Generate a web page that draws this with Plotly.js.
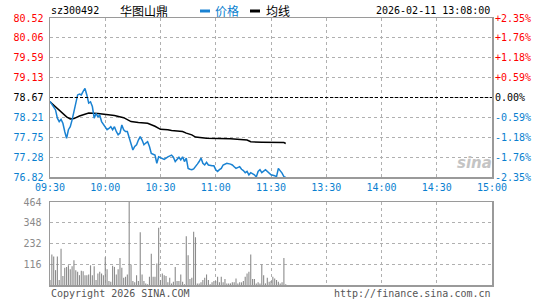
<!DOCTYPE html>
<html><head><meta charset="utf-8">
<script src="https://cdn.plot.ly/plotly-3.0.1.min.js"></script>
<style>html,body{margin:0;padding:0;background:#fff}#chart{width:545px;height:300px}</style>
</head><body><div id="chart"></div>
<script>
// ---- data ----
const stockCode = 'sz300492';
const stockName = '华图山鼎';
const legendPrice = '价格';
const legendAvg = '均线';
const stamp = '2026-02-11 13:08:00';
const prevClose = 78.67;
const priceLabels = ['76.82','77.28','77.75','78.21','78.67','79.13','79.59','80.06','80.52'];
const pctLabels = ['-2.35%','-1.76%','-1.18%','-0.59%','0.00%','+0.59%','+1.18%','+1.76%','+2.35%'];
const volLabels = ['116','232','348','464'];
const timeLabels = ['09:30','10:00','10:30','11:00','11:30','13:30','14:00','14:30','15:00'];

// minute index (0 = 09:30, 120 = 11:30/13:00, 240 = 15:00)
const priceIdx = [0,2,3,4,5,6,7,8,9,10,
  11,12,13,14,15,16,17,18,19,20,
  21,22,23,24,25,26,27,28,29,30,
  31,32,33,34,35,36,37,38,39,40,
  41,42,43,44,45,46,47,48,49,50,
  51,52,53,54,55,57,58,59,61,62,64,66,67,68,
  70,71,72,73,74,75,76,77,78,79,80,81,82,83,84,85,86,
  88,89,90,91,92,93,94,96,98,99,100,101,
  103,104,105,106,107,108,109,111,112,113,114,115,
  117,118,119,120,122,123,124,125,126,127,128];
const price = [78.58,78.45,78.38,78.19,78.11,78.16,78.07,77.88,77.72,77.92,
  77.99,78.15,78.34,78.50,78.73,78.75,78.73,78.81,78.88,78.73,
  78.54,78.57,78.46,78.19,78.30,78.22,78.26,78.11,78.05,77.99,
  77.92,77.95,77.99,77.92,77.99,77.88,77.80,77.84,78.03,77.92,
  77.88,77.88,77.72,77.61,77.45,77.53,77.57,77.68,77.76,77.68,
  77.57,77.61,77.64,77.53,77.37,77.33,77.14,77.29,77.26,77.23,77.29,77.33,77.28,77.18,
  77.28,77.22,77.29,77.18,77.26,77.02,77.00,76.99,77.01,77.08,77.12,77.18,77.26,77.14,77.10,77.16,77.10,
  77.08,77.08,76.99,76.95,76.99,77.02,77.10,77.14,77.12,77.10,77.06,77.02,
  77.06,77.00,76.97,76.92,76.95,76.87,76.92,76.87,76.82,76.95,76.99,76.92,
  76.99,76.95,76.91,76.87,76.85,76.83,77.02,76.97,76.91,76.83,76.81];

const avgIdx = [0,3,6,9,11,13,16,19,21,26,30,35,40,44,48,53,57,60,64,66,72,74,77,79,85,98,107,109,115,127,128];
const avgPrice = [78.57,78.45,78.33,78.22,78.17,78.18,78.24,78.29,78.31,78.30,78.28,78.25,78.20,78.11,78.09,78.07,78.00,77.93,77.92,77.90,77.88,77.84,77.80,77.75,77.72,77.71,77.68,77.64,77.63,77.62,77.60];

const volume = [28,171,160,83,160,28,203,
  50,96,101,110,88,105,138,83,74,55,79,77,55,55,59,110,55,105,28,64,74,64,55,
  155,
  88,22,18,107,101,59,88,
  151,
  96,40,46,59,
  464,
  114,22,15,55,22,
  295,
  59,22,9,4,46,
  175,
  46,46,120,
  320,
  28,64,55,50,15,40,9,18,101,22,22,59,18,4,
  272,
  166,33,40,
  298,
  267,
  9,9,15,28,40,59,28,4,15,22,22,46,15,46,15,33,9,9,9,15,15,37,9,15,15,22,46,64,74,
  171,
  33,33,9,15,9,
  114,
  55,9,40,18,22,46,37,28,18,9,15,151,4];
const volIdx = volume.map((_, i) => i);

// ---- styles ----
const mono = 'DejaVu Sans Mono, Liberation Mono, monospace';
const cjk = 'Noto Sans CJK SC, sans-serif';
const blue = '#0a7fd0';
const red = '#ff0000';
const lineBlue = '#1a82d2';
const gridC = '#b0b0b0';
const borderC = '#9a9a9a';

const lo = parseFloat(priceLabels[0]), hi = parseFloat(priceLabels[priceLabels.length-1]);
const n = priceLabels.length - 1;
const priceVals = priceLabels.map((_, k) => lo + k*(hi-lo)/n);
const colorFor = k => k < n/2 ? blue : (k === n/2 ? '#000' : red);
const priceText = priceLabels.map((t, k) => `<span style="color:${colorFor(k)}">${t}</span>`);
const pLo = parseFloat(pctLabels[0]), pHi = parseFloat(pctLabels[n]);
const pctVals = pctLabels.map((_, k) => pLo + k*(pHi-pLo)/n);
const pctText = pctLabels.map((t, k) => `<span style="color:${colorFor(k)}">${t}</span>`);
const timeVals = timeLabels.map((_, k) => k*30);
const volVals = volLabels.map(Number);

const traces = [
  {type:'bar', x: volIdx, y: volume, xaxis:'x2', yaxis:'y2', width:0.6,
   marker:{color:'#8c8c8c', line:{width:0}}, hoverinfo:'skip'},
  {type:'scatter', mode:'lines', x: avgIdx, y: avgPrice, xaxis:'x', yaxis:'y',
   line:{color:'#000', width:1.5}, hoverinfo:'skip'},
  {type:'scatter', mode:'lines', x: priceIdx, y: price, xaxis:'x', yaxis:'y',
   line:{color:lineBlue, width:1.5}, hoverinfo:'skip'},
  {type:'scatter', mode:'markers', x:[0], y:[0], xaxis:'x', yaxis:'y3',
   marker:{opacity:0}, hoverinfo:'skip'}
];

const gridCommon = {showgrid:true, gridcolor:gridC, griddash:'dot', gridwidth:1,
  showline:true, mirror:true, linecolor:borderC, linewidth:1.5, zeroline:false,
  ticks:'', fixedrange:true};

const mainBottom = 1 - (177-18)/267;
const volTop = 1 - (202-18)/267;
const py = p => (285 - p)/267;   // pixel row -> paper y
const px = p => (p - 50)/442;    // pixel col -> paper x

const layout = {
  width:545, height:300,
  margin:{l:50, r:53, t:18, b:15, pad:0},
  paper_bgcolor:'#fff', plot_bgcolor:'#fff',
  showlegend:false, hovermode:false,
  font:{family:mono, size:10, color:'#000'},
  xaxis: Object.assign({}, gridCommon, {domain:[0,1], anchor:'y', range:[0,240],
    tickmode:'array', tickvals:timeVals, ticktext:timeLabels,
    tickfont:{family:mono, size:10, color:blue}}),
  yaxis: Object.assign({}, gridCommon, {domain:[mainBottom,1], anchor:'x', range:[lo,hi],
    tickmode:'array', tickvals:priceVals, ticktext:priceText, ticklabelstandoff:3,
    tickfont:{family:mono, size:10}}),
  yaxis3: {overlaying:'y', side:'right', anchor:'x', range:[pLo,pHi], showgrid:false,
    zeroline:false, showline:false, ticks:'', tickmode:'array', tickvals:pctVals,
    ticktext:pctText, ticklabelstandoff:2, tickfont:{family:mono, size:10}, fixedrange:true},
  xaxis2: Object.assign({}, gridCommon, {domain:[0,1], anchor:'y2', range:[0,240],
    tickmode:'array', tickvals:timeVals, showticklabels:false}),
  yaxis2: Object.assign({}, gridCommon, {domain:[0,volTop], anchor:'x2', range:[0,464],
    tickmode:'array', tickvals:volVals, ticktext:volLabels, ticklabelstandoff:5,
    tickfont:{family:mono, size:10, color:'#8a8a8a'}}),
  shapes: [
    {type:'line', xref:'x', yref:'y', x0:0, x1:240, y0:prevClose, y1:prevClose,
     line:{color:'#000', width:1, dash:'3px,2px'}},
    {type:'line', xref:'paper', yref:'paper', x0:px(200), x1:px(210), y0:py(11), y1:py(11),
     line:{color:lineBlue, width:3}},
    {type:'line', xref:'paper', yref:'paper', x0:px(250), x1:px(260), y0:py(11), y1:py(11),
     line:{color:'#000', width:3}}
  ],
  annotations: [
    {text:stockCode, xref:'paper', yref:'paper', x:px(49), y:py(11), xanchor:'left', yanchor:'middle',
     showarrow:false, font:{family:mono, size:10, color:'#000'}},
    {text:stockName, xref:'paper', yref:'paper', x:px(118), y:py(11), xanchor:'left', yanchor:'middle',
     showarrow:false, font:{family:cjk, size:12, color:'#000'}},
    {text:legendPrice, xref:'paper', yref:'paper', x:px(213), y:py(11), xanchor:'left', yanchor:'middle',
     showarrow:false, font:{family:cjk, size:12, color:blue}},
    {text:legendAvg, xref:'paper', yref:'paper', x:px(264), y:py(11), xanchor:'left', yanchor:'middle',
     showarrow:false, font:{family:cjk, size:12, color:'#000'}},
    {text:stamp, xref:'paper', yref:'paper', x:px(492), y:py(11), xanchor:'right', yanchor:'middle',
     showarrow:false, font:{family:mono, size:10, color:'#000'}},
    {text:'Copyright 2026 SINA.COM', xref:'paper', yref:'paper', x:px(49), y:py(293), xanchor:'left', yanchor:'middle',
     showarrow:false, font:{family:mono, size:10, color:'#555'}},
    {text:'http://finance.sina.com.cn', xref:'paper', yref:'paper', x:px(493), y:py(293), xanchor:'right', yanchor:'middle',
     showarrow:false, font:{family:mono, size:10, color:'#555'}},
    {text:'<b><i>sina</i></b>', xref:'paper', yref:'paper', x:px(474), y:py(163), xanchor:'center', yanchor:'middle',
     showarrow:false, font:{family:'DejaVu Sans, sans-serif', size:15, color:'#c4c4c4'}}
  ]
};

Plotly.newPlot('chart', traces, layout, {staticPlot:true, displayModeBar:false});
</script>
</body></html>
